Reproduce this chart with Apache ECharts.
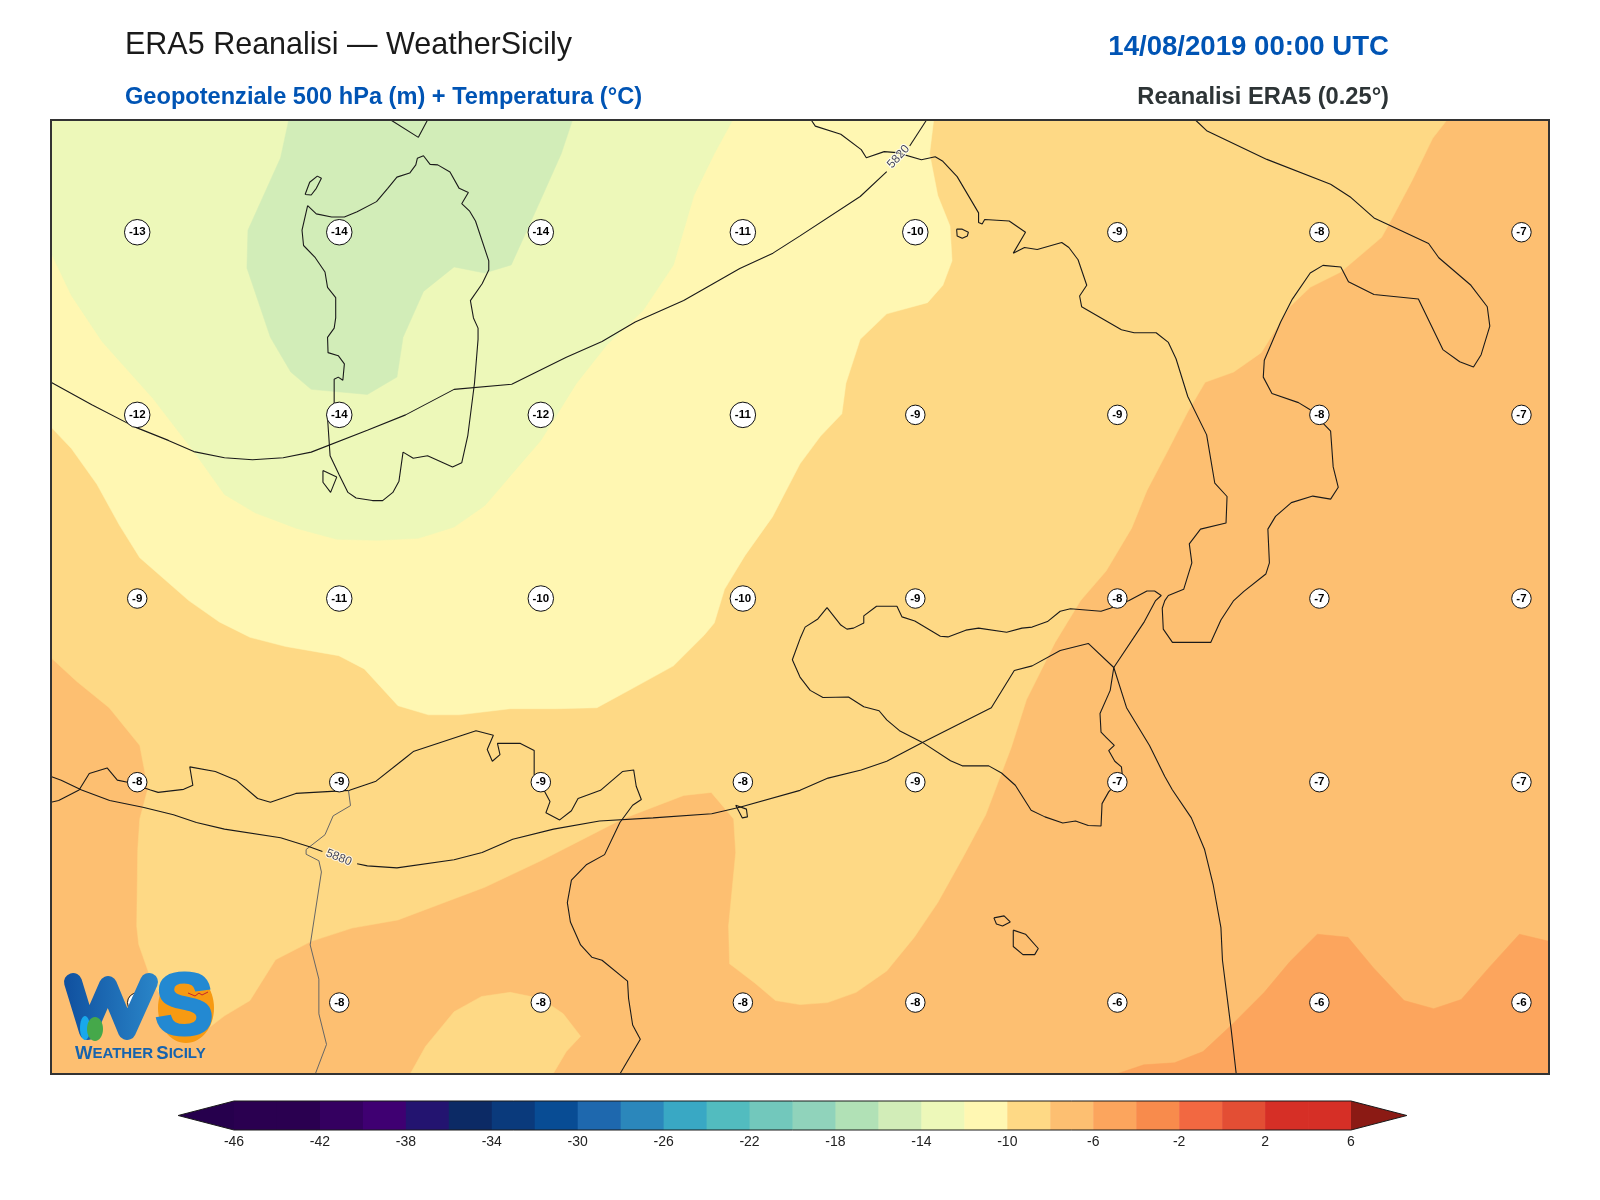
<!DOCTYPE html>
<html>
<head>
<meta charset="utf-8">
<title>ERA5 Reanalisi - WeatherSicily</title>
<script src="https://cdn.jsdelivr.net/npm/echarts@6/dist/echarts.min.js"></script>
<style>
  html, body { margin: 0; padding: 0; background: #fff; }
  #chart { width: 1600px; height: 1200px; }
</style>
</head>
<body>
<div id="chart"></div>
<script>
// temperature bands, outlines (map units, y grows downwards)
var band_16_14 = [[283,117],[275,154],[243,225],[242,262],[265,330],[285,364],[305,381],[360,386],[389,369],[395,330],[415,285],[445,261],[475,267],[501,259],[530,195],[550,150],[561,117]];
var band_14_12 = [[50,117],[718,117],[700,150],[680,191],[660,259],[630,304],[595,337],[565,375],[530,431],[475,495],[445,516],[410,527],[370,529],[330,528],[290,517],[250,502],[220,484],[190,442],[150,390],[100,334],[70,289],[50,247]];
var band_12_10 = [[50,117],[915,117],[911,150],[919,191],[931,221],[933,255],[924,279],[909,296],[869,307],[843,332],[829,375],[825,405],[804,427],[784,454],[757,506],[730,544],[710,577],[700,610],[690,622],[660,652],[620,674],[585,693],[545,694],[500,694],[450,700],[420,700],[390,691],[357,655],[332,642],[280,633],[245,624],[215,609],[185,588],[137,546],[117,514],[95,474],[70,439],[50,418]];
var band_10_8 = [[50,117],[1418,117],[1404,135],[1384,176],[1366,210],[1354,232],[1314,266],[1284,281],[1264,300],[1236,345],[1209,364],[1181,374],[1164,403],[1144,442],[1124,480],[1109,517],[1084,559],[1059,588],[1034,629],[1006,685],[991,732],[966,798],[944,839],[919,884],[896,918],[869,951],[839,972],[811,982],[784,984],[760,980],[740,963],[715,944],[714,907],[721,835],[719,802],[697,776],[670,779],[610,802],[530,843],[475,869],[390,901],[345,909],[305,922],[270,940],[245,980],[220,995],[203,1008],[170,990],[150,965],[136,925],[134,907],[135,832],[137,802],[145,772],[137,730],[107,693],[75,667],[50,644]];
var band_10_8_south = [[402,1052],[417,1025],[445,991],[472,976],[500,972],[530,978],[552,993],[569,1015],[555,1030],[542,1052]];
var band_6_4 = [[1094,1052],[1121,1043],[1151,1041],[1179,1030],[1209,1002],[1239,972],[1264,942],[1291,915],[1321,918],[1346,948],[1376,980],[1405,988],[1432,979],[1459,948],[1489,915],[1518,922],[1518,1052]];

// coastlines
var sardinia = [[301.5,201],[310,209],[325,212],[337.5,212],[350,207],[369,197],[380,184],[389,173],[401.5,169],[407.5,161],[409,154.5],[415,152],[421.5,160.5],[429,161],[441,168],[450,184],[459,188],[452.5,199],[460,206],[466,216],[479,255],[479,264],[472.5,277.5],[461,294],[464,311],[468.5,321],[468.5,332],[465,375],[458.5,426],[452.5,453],[443.5,457],[419,446],[405,448.5],[395,442.5],[391,471],[385,482],[375,490],[365,490],[349,487.5],[341,482],[332.5,465],[323.5,446],[321,409],[327.5,394],[327.5,371],[331.5,369],[336,372],[337.5,356],[331.5,348],[321.5,345],[321,330],[327.5,321],[329,311],[329,291],[321,281],[318.5,266],[309,252],[297.5,240],[296,225],[301.5,201]];
var asinara = [[299,190],[303.5,178],[311,172],[315,174],[310,184],[305,190.5],[299,190]];
var santAntioco = [[316.5,460.5],[330,467],[324,482],[316.5,472],[316.5,460.5]];
var corsica = [[383,117],[410,134],[419,117]];
var ischia = [[937.5,224],[943,224],[949,227],[948,230.6],[943,233],[938,230.6],[937.5,224]];
var italy = [[795,117],[799,123],[824,131],[844,146],[849,154],[866.5,148],[879,149],[903,156],[916.5,153],[924,157.5],[938,172.5],[959,208],[959,217.5],[962.5,219],[965,214.5],[989,216],[1005,227],[993,247.5],[1004,242],[1016.5,244],[1040.5,237],[1047.5,242],[1056.5,254],[1065,279],[1058,289.5],[1060,300],[1099,322.5],[1111.5,325.5],[1133,325.5],[1145,335],[1152.5,351],[1164,388],[1182.5,425.6],[1190.5,473],[1202.5,486],[1201.5,512],[1176.5,518],[1165.5,532.5],[1168,551],[1160,577],[1145,583],[1141.5,588],[1139,595.5],[1140,616],[1149,629],[1186.5,629],[1196.5,607],[1209,588],[1219,579],[1240.5,562],[1244,551],[1242.5,518],[1250,505.5],[1265.5,492],[1286.5,485.6],[1304,488.6],[1311.5,477],[1306.5,457],[1304,422],[1284,401],[1272.5,394],[1246.5,385],[1238,369],[1239,352.5],[1255,315],[1266.5,292.5],[1284,267],[1296.5,259.5],[1314,261],[1321.5,275.6],[1346.5,288],[1390,292.5],[1414,342],[1430.5,354],[1444,359],[1451.5,347],[1460,319],[1457.5,300],[1441.5,279],[1410,252],[1400,238],[1346.5,213],[1324,193],[1304,180],[1241.5,155.6],[1182.5,127.5],[1171.5,117]];
var sicily = [[784,625.5],[789,614],[801.5,606],[810.5,595],[824,612],[830,616],[836.5,615],[846.5,610],[846.5,603],[859,593.6],[879,593.6],[884,604],[896.5,608],[921.5,623],[929,623.6],[946.5,617],[959,615],[986.5,619],[1001.5,615],[1011.5,614],[1026.5,608.6],[1039,598.5],[1049,596],[1079,598.5],[1088,595.5],[1106.5,588],[1124,578.6],[1131.5,578.6],[1138,583],[1132.5,588],[1121.5,608.6],[1091.5,653.6],[1088,676],[1078,698.6],[1079,717],[1084,722],[1092,730],[1086.5,735],[1092.5,745.5],[1099,751],[1100,760.5],[1086.5,775.5],[1080,787],[1079,809],[1066.5,808.5],[1054,804],[1041.5,806],[1024,800],[1010.5,793.5],[995,769],[981.5,757],[969,750],[943,750],[931.5,745],[904,727],[881.5,715.5],[869,705],[861.5,696],[846.5,692],[831.5,682.5],[806.5,683],[794,676],[784,663],[776.5,646],[784,625.5]];
var pantelleria = [[721,788.6],[727.5,801],[732.5,800],[731.5,792.4],[721,788.6]];
var gozo = [[974,899],[984,897],[990,903],[982.5,907],[976.5,905],[974,899]];
var malta = [[993,911],[1005,915],[1017.5,929],[1014,935],[1002.5,935],[993,927],[993,911]];
var northAfrica = [[50,785.6],[57.5,784],[77.5,773.6],[87.5,757.5],[105,752],[115,764],[125,766],[147.5,773.6],[155,776],[180,773],[189,769],[186,751],[211,755.6],[231.5,764],[252.5,782],[265,785.6],[290,777],[342.5,774],[368.5,765],[397.5,742],[405,736],[466.5,715.5],[483.5,720],[477.5,734],[482.5,745.5],[490,739],[487.5,728],[510,728],[523.5,735],[523.5,758.6],[534,775.5],[539,785],[535,796],[548.5,803],[560,794],[566.5,782],[588.5,774],[610,755.6],[621,754],[623.5,770],[628.5,783],[620,788.6],[607.5,805.5],[592.5,837],[575,846.6],[560,862],[556,884],[559,903],[569,925.5],[580,937.5],[590,940.5],[615,961],[616,978],[620,1004],[627.5,1018],[607.5,1052]];
var tunisiaBorder = [[341.5,774],[343.5,789],[326.5,799],[318.5,817.5],[300,832],[300,836.6],[312.5,843],[315,854],[304,925.5],[312.5,959],[312.5,993],[320,1023],[309,1052]];

// geopotential contours, split where the inline label sits
var contour5820a = [[50,374],[90,396],[132.5,418],[165,431],[190,442],[220,448],[247.5,450],[277.5,448],[305,442.5],[360,421],[397.5,406],[445,381],[501.5,376],[555,349.5],[590,334],[622.5,315],[670,294],[725,262.5],[757.5,247.5],[784,230.6],[843,192],[869,167.6]];
var contour5820b = [[891.5,142.5],[908,117]];
var contour5880a = [[50,760.5],[60,764],[80,773.6],[107.5,784],[140,790.5],[170,798],[192.5,805.5],[220,812],[275,820.5],[302.5,829],[316,834]];
var contour5880b = [[350,846],[360,848],[389,850],[445,842],[472.5,835],[502.5,822],[542.5,812],[587.5,804],[640,801],[697.5,797],[725,790.5],[784,774],[811.5,762],[844,754],[869,745.5],[904,727],[971.5,693],[994,656.6],[1011.5,652],[1039,637],[1066.5,630],[1091.5,653.6],[1104,693],[1126.5,730],[1141.5,760.5],[1149,773.6],[1167.5,801],[1180.5,832],[1189,867],[1196.5,908.6],[1198,940.5],[1206.5,1008],[1211.5,1052]];
var contourLabels = [[880.5,153,'5820',48],[332,840,'5880',-22]];

// temperature at 500 hPa on the plotted points
var pointX = [134.5,332.5,530,728,897,1095,1293,1491];
var pointY = [227,406,586,766,982];
var tempRow1 = [-13,-14,-14,-11,-10,-9,-8,-7];
var tempRow2 = [-12,-14,-12,-11,-9,-9,-8,-7];
var tempRow3 = [-9,-11,-10,-10,-9,-8,-7,-7];
var tempRow4 = [-8,-9,-9,-8,-9,-7,-7,-7];
var tempRow5 = [-8,-8,-8,-8,-8,-6,-6,-6];

// colour bar
var cbarLevels = [-46,-44,-42,-40,-38,-36,-34,-32,-30,-28,-26,-24,-22,-20,-18,-16,-14,-12,-10,-8,-6,-4,-2,0,2,4,6];
var cbarColors = ['#2a0050','#2a0050','#340060','#3f0072','#231470','#0c2a65','#0a3a7c','#084c94','#1e68ae','#2b87bb','#39a8c4','#52bcbf','#72c8bc','#90d3bb','#b1e1b6','#d2edb8','#edf8b9','#fff7b2','#fed985','#fdbf71','#fca55d','#f88b4c','#f26841','#e34e34','#d62f26','#d62f26'];
var cbarUnder = '#26004d', cbarOver = '#8b1a14';
var cbarLow = -48.6, cbarHigh = 8.6;

var FONT = '"Liberation Sans", Arial, sans-serif';
var chart = echarts.init(document.getElementById('chart'), null, {renderer: 'canvas'});

function bandSeries(pts, color){
  return {
    type: 'custom', xAxisIndex: 0, yAxisIndex: 0, silent: true, animation: false, clip: true,
    encode: {x: 0, y: 1}, data: pts, z: 2,
    renderItem: function(params, api){
      if(params.dataIndex !== 0) return;
      return {type: 'polygon', shape: {points: pts.map(function(p){ return api.coord(p); })}, style: {fill: color, stroke: color, lineWidth: 0.5}};
    }
  };
}

function lineSeries(pts, color, width, z){
  return {
    type: 'line', xAxisIndex: 0, yAxisIndex: 0, data: pts, showSymbol: false, silent: true, animation: false,
    clip: true, z: z, lineStyle: {color: color, width: width}
  };
}

var tempPoints = [];
[tempRow1, tempRow2, tempRow3, tempRow4, tempRow5].forEach(function(row, r){
  row.forEach(function(t, c){ tempPoints.push([pointX[c], pointY[r], t]); });
});

var series = [
  bandSeries(band_10_8, '#fed985'),
  bandSeries(band_10_8_south, '#fed985'),
  bandSeries(band_12_10, '#fff7b2'),
  bandSeries(band_14_12, '#edf8b9'),
  bandSeries(band_16_14, '#d2edb8'),
  bandSeries(band_6_4, '#fca55d')
];

[sardinia, asinara, santAntioco, corsica, ischia, italy, sicily, pantelleria, gozo, malta, northAfrica].forEach(function(c){
  series.push(lineSeries(c, '#1a1a1a', 1.1, 5));
});
series.push(lineSeries(tunisiaBorder, '#666', 1, 5));
[contour5820a, contour5820b, contour5880a, contour5880b].forEach(function(c){
  series.push(lineSeries(c, '#1a1a1a', 1.1, 6));
});

// inline contour labels
contourLabels.forEach(function(l){
  series.push({
    type: 'scatter', xAxisIndex: 0, yAxisIndex: 0, data: [[l[0], l[1]]], symbolSize: 0, silent: true, animation: false, z: 7,
    label: {show: true, position: 'inside', formatter: l[2], rotate: l[3], fontFamily: FONT, fontSize: 12, color: '#14142a', textBorderColor: '#fff', textBorderWidth: 2}
  });
});

// temperature circles
series.push({
  type: 'scatter', xAxisIndex: 0, yAxisIndex: 0, data: tempPoints, silent: true, animation: false, z: 8,
  symbol: 'circle',
  symbolSize: function(v){ return String(v[2]).length > 2 ? 25.5 : 19.5; },
  itemStyle: {color: '#fff', borderColor: '#111', borderWidth: 1, opacity: 1},
  label: {show: true, position: 'inside', formatter: function(p){ return String(p.value[2]); }, fontFamily: FONT, fontWeight: 'bold', fontSize: 11.5, color: '#000'}
});

// colour bar cells
series.push({
  type: 'custom', xAxisIndex: 1, yAxisIndex: 1, silent: true, animation: false, clip: false, z: 2,
  encode: {x: [0, 1]},
  data: cbarColors.map(function(c, i){ return [cbarLevels[i], cbarLevels[i + 1]]; }),
  renderItem: function(params, api){
    var a = api.coord([api.value(0), 1]), b = api.coord([api.value(1), 0]);
    return {type: 'rect', shape: {x: a[0], y: a[1], width: b[0] - a[0] + 0.5, height: b[1] - a[1]}, style: {fill: cbarColors[params.dataIndex]}};
  }
});
// colour bar extensions and outline
series.push({
  type: 'custom', xAxisIndex: 1, yAxisIndex: 1, silent: true, animation: false, clip: false, z: 3,
  encode: {x: 0}, data: [[cbarLow]],
  renderItem: function(params, api){
    var x0 = cbarLevels[0], x1 = cbarLevels[cbarLevels.length - 1];
    var c = function(x, y){ return api.coord([x, y]); };
    return {type: 'group', children: [
      {type: 'polygon', shape: {points: [c(x0, 1), c(cbarLow, 0.5), c(x0, 0)]}, style: {fill: cbarUnder}},
      {type: 'polygon', shape: {points: [c(x1, 1), c(cbarHigh, 0.5), c(x1, 0)]}, style: {fill: cbarOver}},
      {type: 'polygon', shape: {points: [c(x0, 1), c(x1, 1), c(cbarHigh, 0.5), c(x1, 0), c(x0, 0), c(cbarLow, 0.5)]}, style: {fill: 'none', stroke: '#1a1a1a', lineWidth: 1}}
    ]};
  }
});

var option = {
  backgroundColor: '#fff',
  animation: false,
  title: [
    {text: 'ERA5 Reanalisi — WeatherSicily', left: 120, top: 25, textStyle: {fontFamily: FONT, fontSize: 30.5, fontWeight: 'normal', color: '#1a1a1a'}},
    {text: 'Geopotenziale 500 hPa (m) + Temperatura (°C)', left: 120, top: 80, textStyle: {fontFamily: FONT, fontSize: 23.6, fontWeight: 'bold', color: '#0054b4'}},
    {text: '14/08/2019 00:00 UTC', right: 206, top: 28, textStyle: {fontFamily: FONT, fontSize: 27.6, fontWeight: 'bold', color: '#0054b4'}},
    {text: 'Reanalisi ERA5 (0.25°)', right: 206, top: 80, textStyle: {fontFamily: FONT, fontSize: 23.7, fontWeight: 'bold', color: '#2d3436'}}
  ],
  grid: [
    {left: 51, top: 120, width: 1498, height: 954, show: true, backgroundColor: '#fdbf71', borderWidth: 0},
    {left: 234, top: 1101, width: 1117, height: 29, show: false}
  ],
  xAxis: [
    {gridIndex: 0, type: 'value', min: 50, max: 1518, show: false},
    {gridIndex: 1, type: 'value', min: -46, max: 6, interval: 4, axisLine: {show: false}, axisTick: {show: false}, splitLine: {show: false},
     axisLabel: {fontFamily: FONT, fontSize: 14, color: '#222', margin: 5, showMinLabel: true, showMaxLabel: true}}
  ],
  yAxis: [
    {gridIndex: 0, type: 'value', min: 117, max: 1052, inverse: true, show: false},
    {gridIndex: 1, type: 'value', min: 0, max: 1, show: false}
  ],
  series: series,
  graphic: {elements: [
    // map frame
    {type: 'rect', z: 50, shape: {x: 51, y: 120, width: 1498, height: 954}, style: {fill: 'none', stroke: '#333', lineWidth: 2}},
    // logo
    {type: 'ellipse', z: 60, shape: {cx: 186, cy: 1008, rx: 28, ry: 35}, style: {fill: '#f79a12'}},
    {type: 'polyline', z: 61, shape: {points: [[73, 982], [88, 1031], [108, 985], [127, 1031], [149, 982]]},
     style: {fill: 'none', lineWidth: 18, lineCap: 'round', lineJoin: 'round',
       stroke: new echarts.graphic.LinearGradient(0, 0, 1, 0, [{offset: 0, color: '#10509f'}, {offset: 1, color: '#2a86c9'}])}},
    {type: 'ellipse', z: 62, shape: {cx: 85, cy: 1028, rx: 5, ry: 12}, style: {fill: '#18a8ec'}},
    {type: 'ellipse', z: 63, shape: {cx: 95, cy: 1029, rx: 8, ry: 12}, style: {fill: '#45a84a'}},
    {type: 'text', z: 61, x: 155, y: 1010, style: {text: 'S', font: 'bold 88px "Liberation Sans"', textVerticalAlign: 'middle', fill: '#2389d2', stroke: '#2389d2', lineWidth: 3}},
    {type: 'polyline', z: 64, shape: {points: [[188, 993], [195, 996], [199, 993], [202, 995], [208, 992]]}, style: {fill: 'none', stroke: '#c4262e', lineWidth: 1}},
    {type: 'text', z: 61, x: 75, y: 1054, style: {text: '{a|W}{b|EATHER} {a|S}{b|ICILY}', textVerticalAlign: 'middle',
      rich: {a: {font: 'bold 18.5px "Liberation Sans"', fill: '#1663ae'}, b: {font: 'bold 15px "Liberation Sans"', fill: '#1663ae'}}}}
  ]}
};

chart.setOption(option);
</script>
</body>
</html>
